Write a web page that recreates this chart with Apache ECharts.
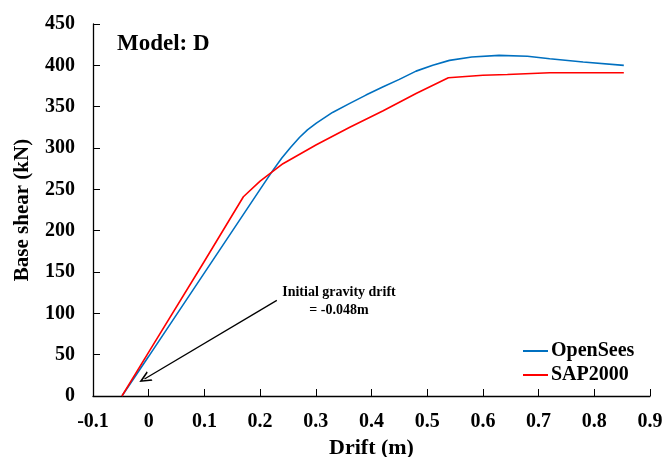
<!DOCTYPE html>
<html>
<head>
<meta charset="utf-8">
<script src="https://cdn.jsdelivr.net/npm/echarts@6/dist/echarts.min.js"></script>
<style>
  html, body { margin: 0; padding: 0; background: #fff; }
  #chart { width: 663px; height: 457px; }
</style>
</head>
<body>
<div id="chart"></div>
<script>
// pushover curves, drift (m) vs base shear (kN)
const openseesDrift = [-0.048, 0, 0.1, 0.2, 0.222, 0.239, 0.255, 0.271, 0.285, 0.301, 0.33, 0.361, 0.39, 0.421, 0.45, 0.48, 0.51, 0.54, 0.58, 0.629, 0.68, 0.72, 0.78, 0.853];
const openseesShear = [0, 48, 149, 250, 272, 288, 301, 313, 322, 330, 343, 354, 364, 374, 383, 393, 400, 406, 410, 412, 411, 408, 404, 400];

const sapDrift = [-0.048, 0, 0.1, 0.17, 0.2, 0.241, 0.301, 0.361, 0.421, 0.48, 0.538, 0.6, 0.644, 0.72, 0.853];
const sapShear = [0, 53, 163, 241, 260, 281, 304, 325, 345, 366, 385, 388, 389, 391, 391];

// annotation arrow: tail near the text, head near the start of the curves
const arrowTail = [0.23, 115.7];
const arrowHead = [-0.0076, 20.5];
const noteLines = ["Initial gravity drift", "= -0.048m"];

const font = "'Liberation Serif', 'Times New Roman', serif";

const zip = (xs, ys) => xs.map((x, i) => [x, ys[i]]);

const chart = echarts.init(document.getElementById("chart"));

const option = {
  animation: false,
  textStyle: { fontFamily: font },
  title: {
    text: "Model: D",
    left: 112,
    top: 28,
    textStyle: { fontFamily: font, fontSize: 23, fontWeight: "bold", color: "#000" },
  },
  legend: {
    left: 518,
    top: 336,
    orient: "vertical",
    icon: "rect",
    itemWidth: 25,
    itemHeight: 2,
    itemGap: 4,
    textStyle: { fontFamily: font, fontSize: 20, fontWeight: "bold", color: "#000", padding: [0, 0, 0, -2], lineHeight: 20 },
    data: ["OpenSees", "SAP2000"],
  },
  grid: { left: 93, right: 13, top: 24, bottom: 61, containLabel: false, outerBoundsMode: "none" },
  xAxis: {
    type: "value",
    min: -0.1,
    max: 0.9,
    interval: 0.1,
    name: "Drift (m)",
    nameLocation: "middle",
    nameGap: 40,
    nameTextStyle: { fontFamily: font, fontSize: 22, fontWeight: "bold", color: "#000" },
    axisLine: { show: true, onZero: false, lineStyle: { color: "#000", width: 1.3 } },
    axisTick: { show: true, inside: true, length: 7, lineStyle: { color: "#000", width: 1 } },
    axisLabel: {
      margin: 16,
      fontFamily: font,
      fontSize: 20,
      fontWeight: "bold",
      color: "#000",
      formatter: (v) => String(+v.toFixed(1)),
    },
    splitLine: { show: false },
  },
  yAxis: {
    type: "value",
    min: 0,
    max: 450,
    interval: 50,
    name: "Base shear (kN)",
    nameLocation: "middle",
    nameGap: 60,
    nameTextStyle: { fontFamily: font, fontSize: 21, fontWeight: "bold", color: "#000" },
    axisLine: { show: true, onZero: false, lineStyle: { color: "#000", width: 1.3 } },
    axisTick: { show: true, inside: true, length: 7, lineStyle: { color: "#000", width: 1 } },
    axisLabel: { margin: 18, fontFamily: font, fontSize: 20, fontWeight: "bold", color: "#000" },
    splitLine: { show: false },
  },
  graphic: [
    {
      type: "text",
      x: 339,
      y: 285,
      style: { text: noteLines[0], font: "bold 14px " + font, fill: "#000", textAlign: "center" },
    },
    {
      type: "text",
      x: 339,
      y: 303,
      style: { text: noteLines[1], font: "bold 14px " + font, fill: "#000", textAlign: "center" },
    },
  ],
  series: [
    {
      name: "OpenSees",
      type: "line",
      data: zip(openseesDrift, openseesShear),
      showSymbol: false,
      symbol: "none",
      itemStyle: { color: "#0070C0" },
      lineStyle: { color: "#0070C0", width: 1.6 },
      markLine: {
        silent: true,
        symbol: ["none", "path://M5,0 L10,10 L8.4,10 L5,3.2 L1.6,10 L0,10 Z"],
        symbolSize: [11, 12],
        label: { show: false },
        lineStyle: { color: "#000", width: 1.3, type: "solid" },
        data: [[{ coord: arrowTail }, { coord: arrowHead }]],
      },
    },
    {
      name: "SAP2000",
      type: "line",
      data: zip(sapDrift, sapShear),
      showSymbol: false,
      symbol: "none",
      itemStyle: { color: "#FF0000" },
      lineStyle: { color: "#FF0000", width: 1.6 },
    },
  ],
};

chart.setOption(option);
</script>
</body>
</html>
